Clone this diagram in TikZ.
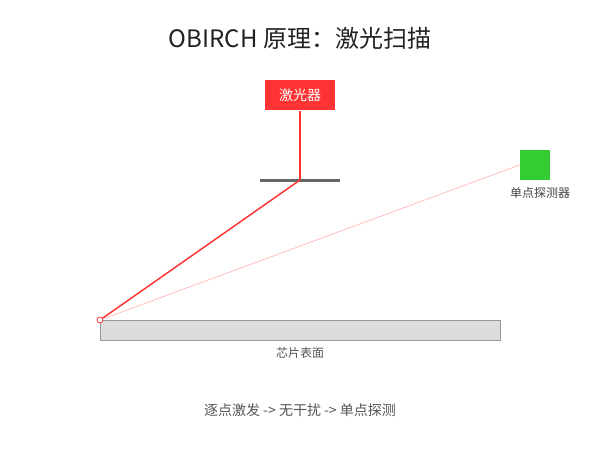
\documentclass[tikz,border=0pt]{standalone}
\usepackage{fontspec}
\setmainfont{Noto Sans CJK SC}
\definecolor{laserred}{RGB}{255,51,51}
\definecolor{detgreen}{RGB}{51,204,51}
\definecolor{mirrorgray}{RGB}{102,102,102}
\definecolor{chipfill}{RGB}{221,221,221}
\definecolor{chipedge}{RGB}{153,153,153}
\definecolor{textgray}{RGB}{85,85,85}
\definecolor{beampink}{RGB}{255,180,180}
\tikzset{every picture/.style={line width=0.75pt}}
\tikzset{
  labeltext/.style={inner sep=0.75pt,text=textgray,font=\fontsize{9}{11}\selectfont},
  beam/.style={draw=laserred,line width=1.1pt}
}

\begin{document}
\begin{tikzpicture}[x=0.75pt,y=0.75pt,yscale=-1,xscale=1]
%set diagram: 600 x 450
\path[use as bounding box] (0,0) rectangle (600,450);

% Title
\node (title) at (300,38) [inner sep=0.75pt,text={rgb,255:red,34;green,34;blue,34},font=\fontsize{18}{22}\selectfont] {OBIRCH 原理：激光扫描};

%Shape: Laser box
\node (laser) at (300,95) [fill=laserred,minimum width=52.5pt,minimum height=22.5pt,inner sep=0pt,text=white,font=\fontsize{10.5}{12}\selectfont] {激光器};

%Shape: Mirror
\coordinate (mirror) at (300,180);
\draw [mirrorgray,line width=2.25pt] (260,180) -- (340,180) ;

%Shape: Chip surface
\draw [draw=chipedge,fill=chipfill] (100,320) rectangle (500,340) ;
\node (chiplabel) at (300,353) [labeltext] {芯片表面};

%Shape: Detector
\node (detector) at (535,165) [fill=detgreen,minimum width=22.5pt,minimum height=22.5pt,inner sep=0pt] {};
\node (detlabel) at (540,193) [labeltext,text={rgb,255:red,68;green,68;blue,68}] {单点探测器};

%Laser spot
\coordinate (spot) at (100,320);

%Straight Lines: beam
\draw [beam] (laser.south) -- (mirror) ;
\draw [beam] (mirror) -- (spot) ;
%Straight Lines: reflected
\draw [beampink,line width=0.5pt] (spot) -- (detector.west) ;
\draw [laserred,fill=white,line width=0.6pt] (spot) circle [radius=3] ;

% Text Node
\node (flow) at (300,410) [inner sep=0.75pt,text=textgray,font=\fontsize{10.5}{13}\selectfont] {逐点激发 -> 无干扰 -> 单点探测};

\end{tikzpicture}
\end{document}
